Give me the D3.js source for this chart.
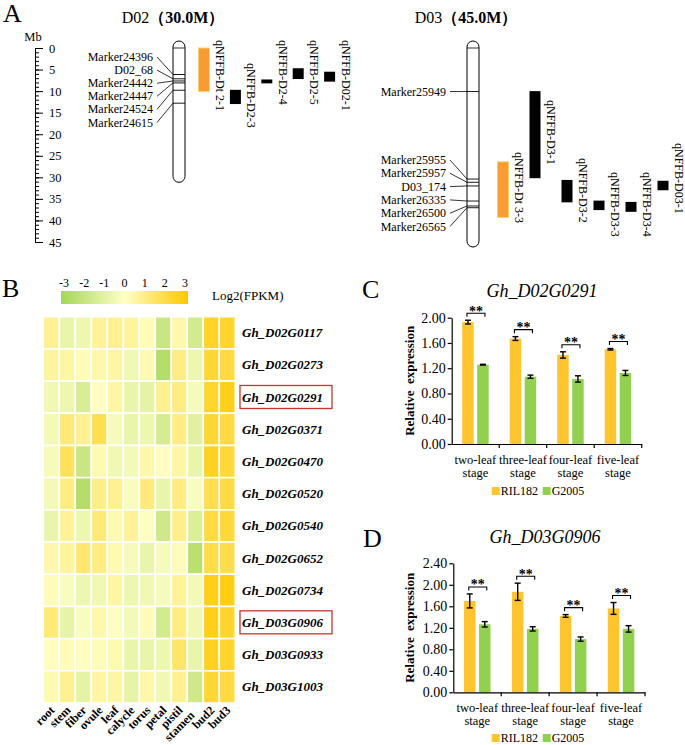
<!DOCTYPE html>
<html><head><meta charset="utf-8">
<script src="https://cdn.jsdelivr.net/npm/d3@7"></script>
<style>
body{margin:0;background:#fff;}
svg{display:block;font-family:"Liberation Serif","Times New Roman",serif;}
</style></head><body>
<svg id="c" width="685" height="745"></svg>
<script>
// ---------------- DATA ----------------
// Panel A
const rulerMinorTicks = [0,1,2,3,4,5,6,7,8,9,10,11,12,13,14,15,16,17,18,19,20,21,22,23,24,25,26,27,28,29,30,31,32,33,34,35,36,37,38,39,40,41,42,43,44,45];
const rulerMajorTicks = [0,5,10,15,20,25,30,35,40,45];
const chromNames = ["D02","D03"];
const chromLengths = [30.0, 45.0];
const chromLabels = ["（30.0M）","（45.0M）"];
const d02Markers = ["Marker24396","D02_68","Marker24442","Marker24447","Marker24524","Marker24615"];
const d02MarkerPos = [6.15, 7.15, 7.65, 8.1, 9.8, 12.8];
const d02Qtls = ["qNFFB-Dt 2-1","qNFFB-D2-3","qNFFB-D2-4","qNFFB-D2-5","qNFFB-D02-1"];
const d02QtlStart = [0, 9.7, 7.3, 4.7, 5.5];
const d02QtlEnd = [10.1, 13.0, 8.2, 7.2, 7.8];
const d02QtlType = ["Dt","D","D","D","D"];
const d03Markers = ["Marker25949","Marker25955","Marker25957","D03_174","Marker26335","Marker26500","Marker26565"];
const d03MarkerPos = [10.1, 30.4, 31.15, 32.0, 35.5, 36.65, 37.05];
const d03Qtls = ["qNFFB-Dt 3-3","qNFFB-D3-1","qNFFB-D3-2","qNFFB-D3-3","qNFFB-D3-4","qNFFB-D03-1"];
const d03QtlStart = [26.4, 10.0, 30.6, 35.4, 35.7, 30.8];
const d03QtlEnd = [39.3, 30.2, 35.8, 37.6, 38.0, 33.0];
const d03QtlType = ["Dt","D","D","D","D","D"];

// Panel B
const tissues = ["root","stem","fiber","ovule","leaf","calycle","torus","petal","pistil","stamen","bud2","bud3"];
const genes = ["Gh_D02G0117","Gh_D02G0273","Gh_D02G0291","Gh_D02G0371","Gh_D02G0470","Gh_D02G0520","Gh_D02G0540","Gh_D02G0652","Gh_D02G0734","Gh_D03G0906","Gh_D03G0933","Gh_D03G1003"];
const log2fpkm = [
  [0.8,-0.7,-0.6,0.7,0.8,0.6,0.2,-1.8,0.4,-1.5,2.4,2.3],
  [0.6,0.5,0.2,0.4,0.5,-0.5,0.3,-2.5,1.0,-0.6,2.2,2.0],
  [-0.5,-0.6,-1.3,0.1,0.5,-0.7,-0.9,0.8,1.0,-0.3,2.3,2.6],
  [-0.4,1.2,0.8,1.8,-0.3,-0.7,-0.6,-1.4,1.0,-1.0,2.2,2.0],
  [-0.3,1.6,-1.8,0.3,-0.5,-0.4,0.4,0.1,0.5,-0.7,2.5,2.1],
  [-0.4,1.0,-2.5,0.9,0.8,-0.2,1.1,-0.7,1.0,-0.2,1.8,2.0],
  [-0.7,0.7,-0.6,1.2,0.3,0.7,-0.1,-1.6,0.9,-1.2,2.0,2.1],
  [0.4,0.6,1.3,1.0,0.3,-0.3,-0.7,-0.3,0.2,-2.3,1.9,1.9],
  [0.2,-0.2,-0.6,-0.5,0.5,-0.6,-0.5,-0.3,0.7,-0.4,2.6,2.7],
  [1.2,-0.8,-0.2,0.4,-0.1,-0.4,0.2,-1.5,1.0,-0.5,2.6,2.3],
  [0.1,0.2,0.1,0.2,0.3,-0.7,-0.7,-0.6,1.4,-0.7,2.5,2.3],
  [0.3,0.8,-0.9,0.5,0.5,-0.8,0.4,-0.5,0.8,-1.6,2.2,2.0]
];
const highlightedGenes = ["Gh_D02G0291","Gh_D03G0906"];
const colorLegendTicks = [-3,-2,-1,0,1,2,3];

// Panels C & D
const stagesLine1 = ["two-leaf","three-leaf","four-leaf","five-leaf"];
const stagesLine2 = ["stage","stage","stage","stage"];
const seriesNames = ["RIL182","G2005"];
const cRIL = [1.93, 1.67, 1.41, 1.50];
const cRILErr = [0.03, 0.03, 0.05, 0.012];
const cG2005 = [1.256, 1.066, 1.03, 1.125];
const cG2005Err = [0.006, 0.025, 0.05, 0.04];
const cTicks = [0, 0.4, 0.8, 1.2, 1.6, 2.0];
const dRIL = [1.70, 1.87, 1.42, 1.56];
const dRILErr = [0.13, 0.16, 0.025, 0.11];
const dG2005 = [1.265, 1.18, 0.99, 1.18];
const dG2005Err = [0.05, 0.04, 0.04, 0.06];
const dTicks = [0, 0.4, 0.8, 1.2, 1.6, 2.0, 2.4];
const cSig = ["**","**","**","**"];
const dSig = ["**","**","**","**"];

// ---------------- DRAW ----------------
const svg = d3.select("#c");
const FONT = "Liberation Serif, Times New Roman, serif";
const seriesColor = d3.scaleOrdinal().domain(seriesNames).range(["#FFC52E","#92D050"]);

function letter(t, x, y) {
  svg.append("text").attr("x", x).attr("y", y).attr("font-size", 26).text(t);
}

// ===== Panel A =====
letter("A", 3, 22);
const mb = d3.scaleLinear().domain([0, 45]).range([48, 242]);

const rulerX = 35;
const gMinor = svg.append("g").attr("transform", `translate(${rulerX},0)`)
  .call(d3.axisRight(mb).tickValues(rulerMinorTicks).tickSize(4).tickSizeOuter(0).tickFormat(""));
const gMajor = svg.append("g").attr("transform", `translate(${rulerX},0)`)
  .call(d3.axisRight(mb).tickValues(rulerMajorTicks).tickSize(8).tickSizeOuter(0).tickPadding(6));
gMajor.attr("font-family", FONT).attr("font-size", 12.5);
[gMinor, gMajor].forEach(g => g.selectAll("line,path").attr("stroke", "#000").attr("stroke-width", 1));
svg.append("text").attr("x", 33).attr("y", 41).attr("text-anchor", "middle").attr("font-size", 12.5).text("Mb");

const chromW = 12;
function drawChrom(i, cx, titleX, markers, markerPos, labelYs, labelRight, qtls, qStart, qEnd, qType, qx0, qStep, qLabelTop) {
  const t = svg.append("text").attr("x", titleX).attr("y", 23).attr("text-anchor", "middle").attr("font-size", 16);
  t.append("tspan").text(chromNames[i]);
  t.append("tspan").attr("font-weight", "bold").text(chromLabels[i]);
  svg.append("rect").attr("x", cx - chromW / 2).attr("y", mb(0) - 7).attr("width", chromW)
    .attr("height", mb(chromLengths[i]) - mb(0) + 12).attr("rx", 6).attr("ry", 6)
    .attr("fill", "#fff").attr("stroke", "#000").attr("stroke-width", 1);
  svg.append("line").attr("x1", cx - chromW / 2).attr("x2", cx + chromW / 2)
    .attr("y1", mb(0)).attr("y2", mb(0)).attr("stroke", "#000").attr("stroke-width", 0.8);
  markers.forEach((m, k) => {
    const my = mb(markerPos[k]);
    svg.append("line").attr("x1", cx - chromW / 2).attr("x2", cx + chromW / 2)
      .attr("y1", my).attr("y2", my).attr("stroke", "#000").attr("stroke-width", 0.9);
    svg.append("line").attr("x1", labelRight + 4).attr("y1", labelYs[k])
      .attr("x2", cx - chromW / 2).attr("y2", my).attr("stroke", "#000").attr("stroke-width", 0.8);
    svg.append("text").attr("x", labelRight).attr("y", labelYs[k] + 4).attr("text-anchor", "end")
      .attr("font-size", 12).text(m);
  });
  qtls.forEach((q, k) => {
    const x = qx0 + k * qStep;
    const isDt = qType[k] === "Dt";
    svg.append("rect").attr("x", x).attr("y", mb(qStart[k])).attr("width", 11)
      .attr("height", mb(qEnd[k]) - mb(qStart[k]))
      .attr("fill", isDt ? "#F79B33" : "#000")
      .attr("stroke", isDt ? "#FFD070" : "none").attr("stroke-width", 1);
    svg.append("text").attr("transform", `translate(${x + 11 + 6.5},${qLabelTop[k]}) rotate(90)`)
      .attr("font-size", 12).text(q);
  });
}

const d02LabelY = d02Markers.map((m, k) => 57 + k * 13.1);
const d03LabelY = d03Markers.map((m, k) => k === 0 ? mb(d03MarkerPos[0]) : 160 + (k - 1) * 13.3);
drawChrom(0, 179, 173, d02Markers, d02MarkerPos, d02LabelY, 153, d02Qtls, d02QtlStart, d02QtlEnd, d02QtlType,
  198.5, 31.4, [40, 63, 40, 40, 40]);
drawChrom(1, 473, 466, d03Markers, d03MarkerPos, d03LabelY, 446, d03Qtls, d03QtlStart, d03QtlEnd, d03QtlType,
  497.5, 32, [152, 100, 158, 172, 172, 143]);

// ===== Panel B =====
letter("B", 2, 297);
const heatColor = d3.scaleLinear().domain([-3, 0, 3]).range(["#a5d656", "#ffffc6", "#ffc800"]);
const defs = svg.append("defs");
const grad = defs.append("linearGradient").attr("id", "hg");
[-3, -1.5, 0, 1.5, 3].forEach(v => grad.append("stop").attr("offset", ((v + 3) / 6 * 100) + "%").attr("stop-color", heatColor(v)));
svg.append("rect").attr("x", 61).attr("y", 291).attr("width", 127).attr("height", 13).attr("fill", "url(#hg)");
const legX = d3.scaleLinear().domain([-3, 3]).range([64, 185]);
svg.append("g").selectAll("text").data(colorLegendTicks).join("text")
  .attr("x", d => legX(d)).attr("y", 287).attr("text-anchor", "middle").attr("font-size", 12)
  .text(d => d);
svg.append("text").attr("x", 212).attr("y", 300).attr("font-size", 13).text("Log2(FPKM)");

const hx = d3.scaleBand().domain(tissues).range([43.3, 235.3]);
const hy = d3.scaleBand().domain(genes).range([316.7, 703]);
const cells = [];
genes.forEach((g, r) => tissues.forEach((t, c) => cells.push({ g, t, v: log2fpkm[r][c] })));
svg.append("g").selectAll("rect").data(cells).join("rect")
  .attr("x", d => hx(d.t)).attr("y", d => hy(d.g))
  .attr("width", hx.bandwidth()).attr("height", hy.bandwidth())
  .attr("fill", d => heatColor(d.v)).attr("stroke", "#fff").attr("stroke-width", 1.6);
svg.append("g").selectAll("text").data(genes).join("text")
  .attr("x", 242).attr("y", d => hy(d) + hy.bandwidth() / 2 + 4.5)
  .attr("font-size", 13).attr("font-weight", "bold").attr("font-style", "italic").text(d => d);
svg.append("g").selectAll("rect").data(highlightedGenes).join("rect")
  .attr("x", 240).attr("y", d => hy(d) + hy.bandwidth() / 2 - 11.7).attr("width", 92).attr("height", 23)
  .attr("fill", "none").attr("stroke", "#c8352c").attr("stroke-width", 1.3);
svg.append("g").selectAll("text").data(tissues).join("text")
  .attr("transform", d => {
    const off = d === "stamen" ? [-4, 5] : [0, 0];
    return `translate(${hx(d) + hx.bandwidth() / 2 + 4 + off[0]},${711 + off[1]}) rotate(-45)`;
  })
  .attr("text-anchor", "end").attr("font-size", 12).attr("font-weight", "bold").text(d => d);

// ===== Panels C, D =====
function barPanel(o) {
  letter(o.letter, o.letterX, o.letterY);
  svg.append("text").attr("x", o.titleX).attr("y", o.titleY).attr("text-anchor", "middle")
    .attr("font-size", 18).attr("font-style", "italic").text(o.title);
  const x = d3.scaleBand().domain(stagesLine1).range([o.x0, o.x1]);
  const y = d3.scaleLinear().domain([0, o.ticks[o.ticks.length - 1]]).range([o.yB, o.yT]);
  const xs = d3.scaleBand().domain(seriesNames)
    .range([x.bandwidth() / 2 - 13.25, x.bandwidth() / 2 + 13.25]).paddingInner(0.233);
  const vals = { RIL182: o.ril, G2005: o.g };
  const errs = { RIL182: o.rilErr, G2005: o.gErr };
  const bars = [];
  stagesLine1.forEach((s, i) => seriesNames.forEach(n => bars.push({ s, n, v: vals[n][i], e: errs[n][i] })));
  svg.append("g").selectAll("rect").data(bars).join("rect")
    .attr("x", d => x(d.s) + xs(d.n)).attr("y", d => y(d.v))
    .attr("width", xs.bandwidth()).attr("height", d => y(0) - y(d.v))
    .attr("fill", d => seriesColor(d.n));
  const ge = svg.append("g").attr("stroke", "#000").attr("stroke-width", 1.4);
  bars.forEach(d => {
    const cx = x(d.s) + xs(d.n) + xs.bandwidth() / 2;
    ge.append("line").attr("x1", cx).attr("x2", cx).attr("y1", y(d.v - d.e)).attr("y2", y(d.v + d.e));
    ge.append("line").attr("x1", cx - 3).attr("x2", cx + 3).attr("y1", y(d.v - d.e)).attr("y2", y(d.v - d.e));
    ge.append("line").attr("x1", cx - 3).attr("x2", cx + 3).attr("y1", y(d.v + d.e)).attr("y2", y(d.v + d.e));
  });
  stagesLine1.forEach((s, i) => {
    const top = Math.max(o.ril[i] + o.rilErr[i], o.g[i] + o.gErr[i]);
    const by = y(top) - 7;
    const xa = x(s) + xs("RIL182") + xs.bandwidth() / 2 - 1;
    const xb = x(s) + xs("G2005") + xs.bandwidth() / 2 + 2;
    svg.append("path").attr("d", `M${xa},${by + 3.5}V${by}H${xb}V${by + 3.5}`)
      .attr("fill", "none").attr("stroke", "#000").attr("stroke-width", 1.1);
    svg.append("text").attr("x", (xa + xb) / 2).attr("y", by + 2.5).attr("text-anchor", "middle")
      .attr("font-size", 14).attr("font-weight", "bold").text(o.sig[i]);
  });
  const gy = svg.append("g").attr("transform", `translate(${o.x0},0)`)
    .call(d3.axisLeft(y).tickValues(o.ticks).tickFormat(d3.format(".2f")).tickSize(4).tickSizeOuter(0).tickPadding(2));
  gy.attr("font-family", FONT).attr("font-size", 14);
  gy.selectAll("line,path").attr("stroke", "#000").attr("stroke-width", 1.2);
  const gx = svg.append("g").attr("transform", `translate(0,${o.yB})`)
    .call(d3.axisBottom(x).tickSize(0).tickSizeOuter(0).tickFormat(""));
  gx.selectAll("path").attr("stroke", "#000").attr("stroke-width", 1.2);
  stagesLine1.forEach(s => {
    const bx = x(s) + x.bandwidth();
    svg.append("line").attr("x1", bx).attr("x2", bx).attr("y1", o.yB).attr("y2", o.yB + 4)
      .attr("stroke", "#000").attr("stroke-width", 1.2);
  });
  svg.append("g").selectAll("text").data(stagesLine1).join("text")
    .attr("x", d => x(d) + x.bandwidth() / 2).attr("y", o.xl1).attr("text-anchor", "middle")
    .attr("font-size", 12.5).text(d => d);
  svg.append("g").selectAll("text").data(stagesLine2).join("text")
    .attr("x", (d, i) => x(stagesLine1[i]) + x.bandwidth() / 2).attr("y", o.xl2).attr("text-anchor", "middle")
    .attr("font-size", 12.5).text(d => d);
  svg.append("text").attr("transform", `translate(${o.ylabX},${(o.yB + o.yT) / 2}) rotate(-90)`)
    .attr("text-anchor", "middle").attr("font-size", 13).attr("font-weight", "bold")
    .attr("word-spacing", 3).text("Relative expression");
  const lx = [491.7, 542.7];
  seriesNames.forEach((n, k) => {
    svg.append("rect").attr("x", lx[k]).attr("y", o.legY - 8).attr("width", 8).attr("height", 8).attr("fill", seriesColor(n));
    svg.append("text").attr("x", lx[k] + 9).attr("y", o.legY).attr("font-size", 12).text(n);
  });
}

barPanel({ letter: "C", letterX: 362, letterY: 298, title: "Gh_D02G0291", titleX: 542, titleY: 297,
  x0: 451.7, x1: 641.7, yB: 444, yT: 317.7, ticks: cTicks, ril: cRIL, rilErr: cRILErr, g: cG2005, gErr: cG2005Err,
  sig: cSig, xl1: 464, xl2: 477, ylabX: 413.5, legY: 495 });
barPanel({ letter: "D", letterX: 363, letterY: 547, title: "Gh_D03G0906", titleX: 545, titleY: 543,
  x0: 453.3, x1: 645, yB: 692.3, yT: 563.3, ticks: dTicks, ril: dRIL, rilErr: dRILErr, g: dG2005, gErr: dG2005Err,
  sig: dSig, xl1: 712, xl2: 725, ylabX: 414, legY: 742 });
</script></body></html>
